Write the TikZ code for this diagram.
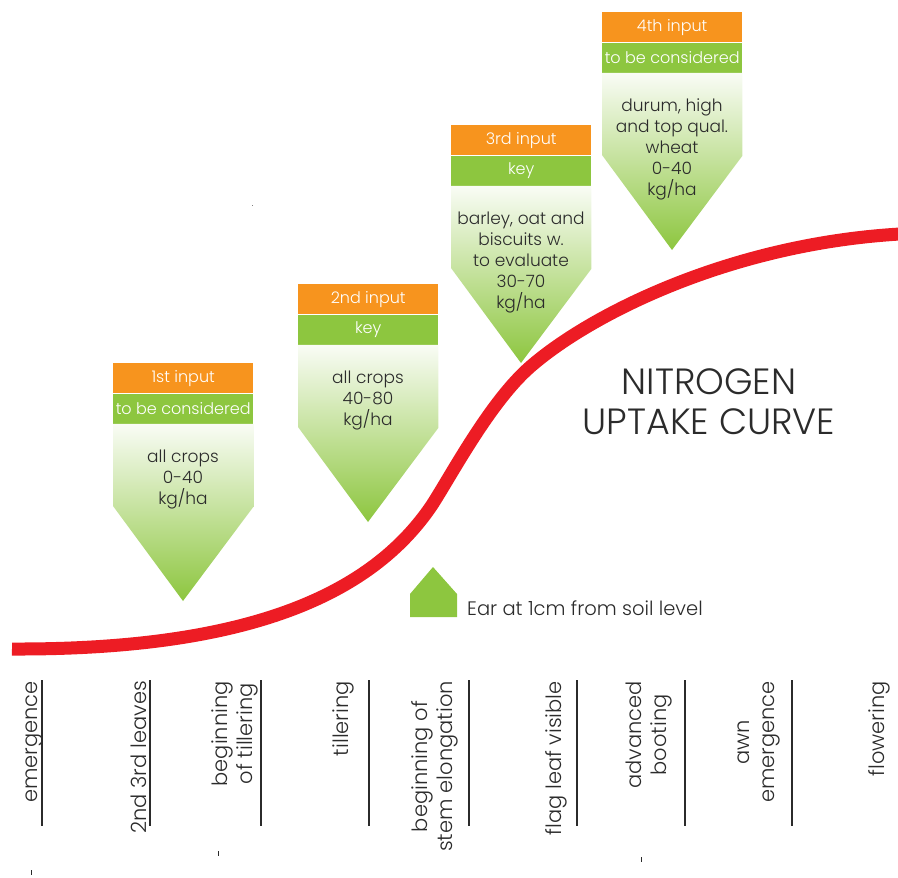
\documentclass[tikz,border=0pt]{standalone}
\usepackage{fontspec}
\setmainfont{Poppins}[UprightFont=* Light]
\usetikzlibrary{positioning}
\definecolor{nitroorange}{HTML}{F7941E}
\definecolor{nitrogreen}{HTML}{8DC63F}
\definecolor{nitrored}{HTML}{ED1C24}
\definecolor{nitrotext}{HTML}{2B2B2B}

\begin{document}
\begin{tikzpicture}[x=1pt,y=-1pt,
    head/.style={fill=nitroorange,text=white,minimum width=140pt,minimum height=30pt,
                 inner sep=0pt,anchor=north west,font=\fontsize{16}{18}\selectfont},
    keybar/.style={head,fill=nitrogreen},
    dose/.style={text=nitrotext,align=center,anchor=north,inner sep=0pt,
                 font=\fontsize{17}{21}\selectfont},
    stage/.style={rotate=90,anchor=south east,align=center,inner sep=0pt,
                  text=nitrotext,font=\fontsize{21}{25}\selectfont},
    stageline/.style={draw=nitrotext,line width=2pt}
  ]
\useasboundingbox (0,0) rectangle (898,878);

% uptake curve
\draw[nitrored,line width=13pt] (12,649) .. controls (250,650) and (372,594) .. (432,505)
  .. controls (452,474) and (490,402) .. (530,367)
  .. controls (590,314.5) and (730,244) .. (900,234);

% inputs
\foreach \n/\bx/\by/\hd/\sb/\txt in {
    1/113/363/1st input/to be considered/{all crops\\0-40\\kg/ha},
    2/298/284/2nd input/key/{all crops\\40-80\\kg/ha},
    3/451/125/3rd input/key/{barley, oat and\\biscuits w.\\to evaluate\\30-70\\kg/ha},
    4/602/12/4th input/to be considered/{durum, high\\and top qual.\\wheat\\0-40\\kg/ha}}{
  \node[head] (in\n) at (\bx,\by) {\hd};
  \node[keybar,below=0pt of in\n] (key\n) {\sb};
  \shade[top color=nitrogreen!5,bottom color=nitrogreen]
    (key\n.south west) -- (key\n.south east) -- ++(0,83)
    -- (\bx+70,\by+238) -- (\bx,\by+143) -- cycle;
  \node[dose] (dose\n) at (\bx+70,\by+87) {\txt};
}

% ear marker
\coordinate (ear) at (410,617);
\fill[nitrogreen] (ear) -- ++(0,-23) -- ++(23,-27) -- ++(24,27) -- ++(0,23) -- cycle;
\node[anchor=base west,inner sep=0pt,text=nitrotext,font=\fontsize{19.5}{21}\selectfont]
  (earlabel) at (467,615) {Ear at 1cm from soil level};

% title
\node[align=center,text=nitrotext,font=\fontsize{36.5}{40}\selectfont] (title) at (709,402)
  {NITROGEN\\UPTAKE CURVE};

% growth stages
\foreach \lx/\tx/\st in {42/43/emergence, 150/147/2nd 3rd leaves,
    261/258/{beginning\\of tillering}, 369/354/tillering,
    469/458/{beginning of\\stem elongation}, 577/567/flag leaf visible,
    685/672/{advanced\\booting}, 792/780/{awn\\emergence}, 900/890/flowering}{
  \draw[stageline] (\lx,680) -- (\lx,826);
  \node[stage] at (\tx,681) {\st};
}

% stray marks
\fill[nitrotext] (30.5,870) rectangle (31.5,875);
\fill[nitrotext] (217.5,851) rectangle (218.5,856);
\fill[nitrotext] (640.5,857) rectangle (641.5,862);
\fill[nitrotext!60] (251.5,204.5) rectangle (252.5,205.5);
\end{tikzpicture}
\end{document}
